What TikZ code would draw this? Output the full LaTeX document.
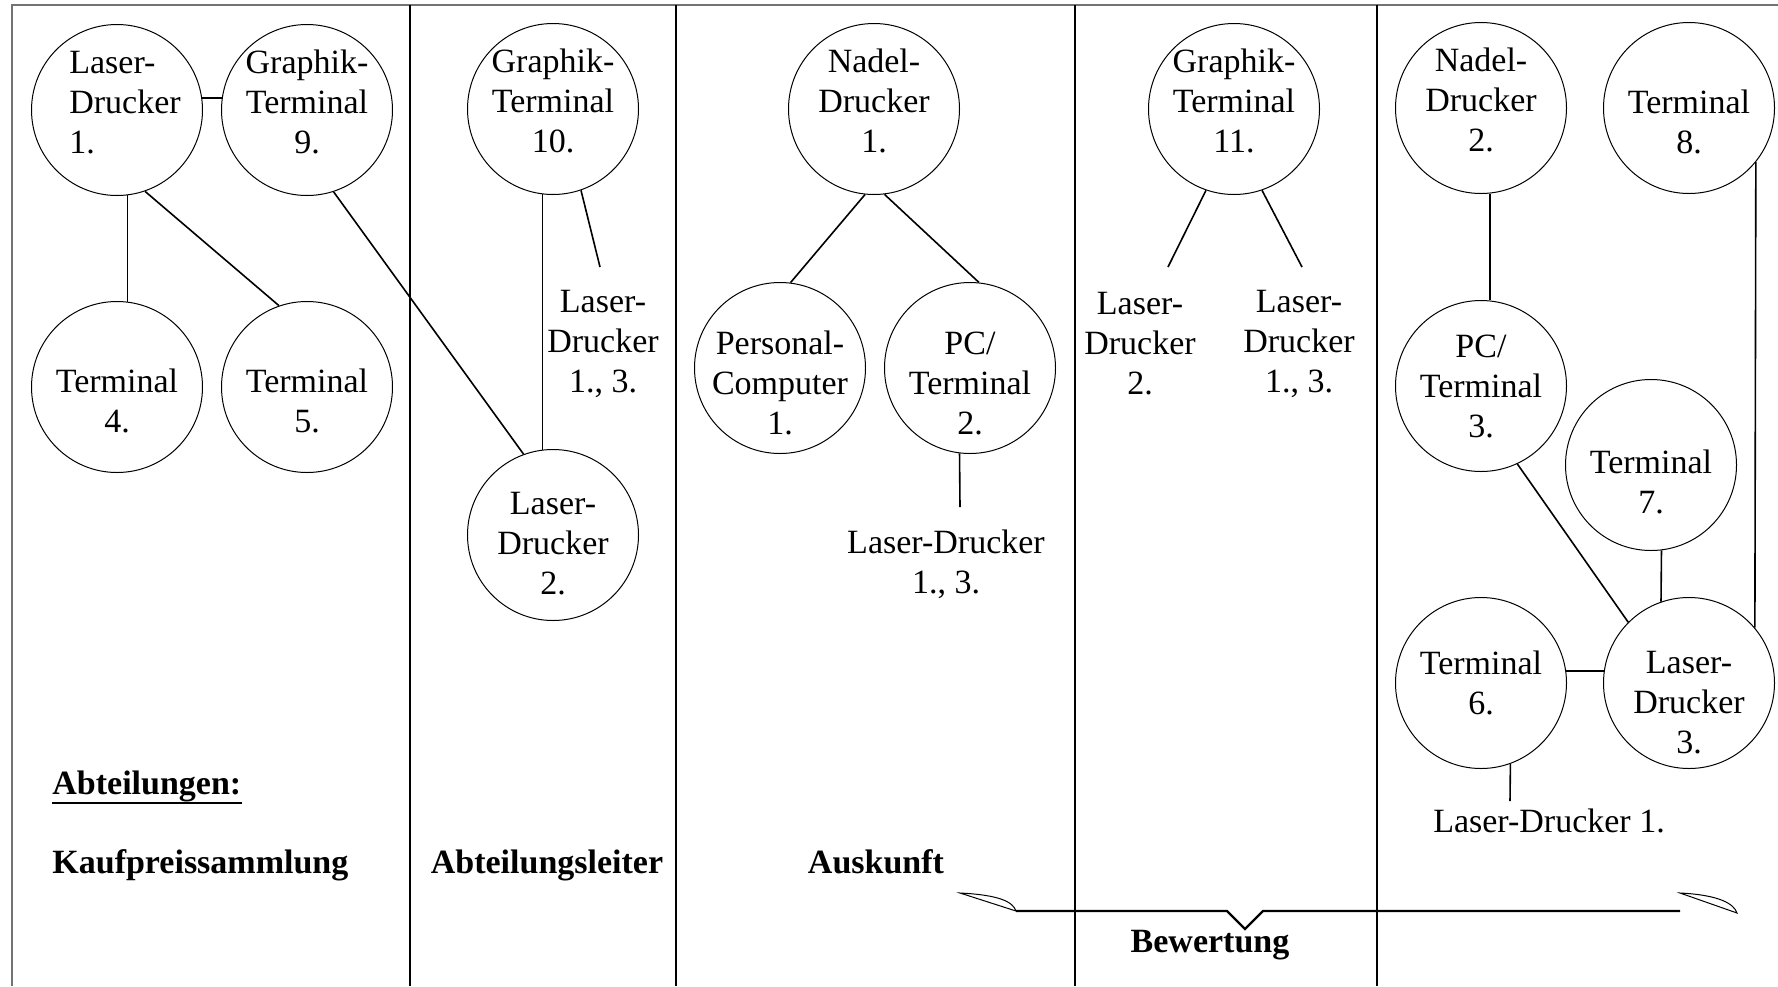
\documentclass[tikz,border=0pt]{standalone}
\usepackage{fontspec}
\setmainfont{Liberation Serif}
\usepackage{tikz}
\usetikzlibrary{shapes.geometric, arrows}
\tikzset{
  font={\fontsize{17pt}{20pt}\selectfont}}
\tikzset{
  geraet/.style={draw, shape=circle, minimum size=85.5pt, inner sep=-5pt, align=center, line width=0.5pt},
  beschr/.style={inner sep=0pt, align=center},
  titel/.style={inner sep=0pt, font={\fontsize{17pt}{20pt}\selectfont\bfseries}},
  trenn/.style={line width=1pt},
  rahmen/.style={line width=0.8pt, black!55},
  klammer/.style={line width=1.1pt}}

\begin{document}
\begin{tikzpicture}[x=0.5pt, y=-0.5pt]
  \useasboundingbox (0,0) rectangle (1778,986);
  % frame and columns
  \draw[rahmen] (12,986) -- (12,5) -- (1778,5);
  \draw[trenn] (410,5) -- (410,986);
  \draw[trenn] (676,5) -- (676,986);
  \draw[trenn] (1075,5) -- (1075,986);
  \draw[trenn] (1377,5) -- (1377,986);

  % Kaufpreissammlung
  \node (ld1) [geraet, align=left] at (117,110) {\hspace*{8pt}Laser-\\\hspace*{8pt}Drucker\\\hspace*{8pt}1.\rule[-8pt]{0pt}{8pt}};
  \node (gt9) [geraet] at (307,110) {Graphik-\\Terminal\\9.\rule[-8pt]{0pt}{8pt}};
  \node (t4) [geraet] at (117,387) {\rule{0pt}{26pt}Terminal\\4.};
  \node (t5) [geraet] at (307,387) {\rule{0pt}{26pt}Terminal\\5.};

  % Abteilungsleiter
  \node (gt10) [geraet] at (553,109) {Graphik-\\Terminal\\10.\rule[-8pt]{0pt}{8pt}};
  \node (ld2) [geraet] at (553,535) {\rule{0pt}{20pt}Laser-\\Drucker\\2.};
  \node (lab10) [beschr] at (603,344) {Laser-\\Drucker\\1., 3.};
  \coordinate (e10) at (600,267);

  % Auskunft
  \node (nd1) [geraet] at (874,109) {Nadel-\\Drucker\\1.\rule[-8pt]{0pt}{8pt}};
  \node (pc1) [geraet] at (780,368) {\rule{0pt}{27pt}Personal-\\Computer\\1.};
  \node (pct2) [geraet] at (970,368) {\rule{0pt}{27pt}PC/\\Terminal\\2.};
  \node (lab2) [beschr] at (946,564) {Laser-Drucker\\1., 3.};
  \coordinate (e2) at (960,507);

  % Bewertung
  \node (gt11) [geraet] at (1234,109) {Graphik-\\Terminal\\11.\rule[-8pt]{0pt}{8pt}};
  \node (lab11a) [beschr] at (1140,344) {Laser-\\Drucker\\2.};
  \node (lab11b) [beschr] at (1299,344) {Laser-\\Drucker\\1., 3.};
  \coordinate (e11a) at (1168,267);
  \coordinate (e11b) at (1302,267);

  % rechte Spalte
  \node (nd2) [geraet] at (1481,108) {Nadel-\\Drucker\\2.\rule[-8pt]{0pt}{8pt}};
  \node (t8) [geraet] at (1689,108) {\rule{0pt}{26pt}Terminal\\8.};
  \node (pct3) [geraet] at (1481,386) {PC/\\Terminal\\3.};
  \node (t7) [geraet] at (1651,465) {\rule{0pt}{29pt}Terminal\\7.};
  \node (t6) [geraet] at (1481,683) {Terminal\\6.};
  \node (ld3) [geraet] at (1689,683) {\rule{0pt}{31pt}Laser-\\Drucker\\3.};
  \node (lab6) [beschr] at (1549,821) {Laser-Drucker 1.};
  \coordinate (e6) at (1510,801);

  % Abteilungen
  \node (abt) [titel, anchor=base west] at (52,794) {Abteilungen:};
  \draw[line width=1.2pt] ([yshift=-0.5pt]abt.south west) -- ([yshift=-0.5pt]abt.south east);
  \node (kauf) [titel, anchor=base west] at (52,873) {Kaufpreissammlung};
  \node (leiter) [titel, anchor=base] at (547,873) {Abteilungsleiter};
  \node (ausk) [titel, anchor=base] at (876,873) {Auskunft};
  \node (bew) [titel, anchor=base] at (1210,952) {Bewertung};

  \draw[-, thick] (ld1.8) -- (gt9.172);
  \draw[-, thick] (ld1.-83) -- (t4.83);
  \draw[-, thick] (ld1.-71) -- (t5.109);
  \draw[-, thick] (gt9.-72) -- (ld2.110);
  \draw[-, thick] (gt10.-97) -- (ld2.97);
  \draw[-, thick] (gt10.-71) -- (e10);
  \draw[-, thick] (nd1.-96) -- (pc1.83);
  \draw[-, thick] (nd1.-83) -- (pct2.84);
  \draw[-, thick] (pct2.-97) -- (e2);
  \draw[-, thick] (gt11.-109) -- (e11a);
  \draw[-, thick] (gt11.-71) -- (e11b);
  \draw[-, thick] (nd2.-84) -- (pct3.84);
  \draw[-, thick] (pct3.-65) -- (ld3.135);
  \draw[-, thick] (t7.-83) -- (ld3.109);
  \draw[-, thick] (t8.-39) -- (ld3.40);
  \draw[-, thick] (t6.8) -- (ld3.172);
  \draw[-, thick] (t6.-70) -- (e6);

  % brace
  \draw[klammer] (1016,911) -- (1227,911) -- (1245,929) -- (1263,911) -- (1680,911);
  \draw[line width=0.5pt] (960,893) .. controls (1000,895) and (1013,902) .. (1016,911) -- cycle;
  \draw[line width=0.5pt] (1680,893) .. controls (1720,895) and (1734,904) .. (1737,913) -- cycle;
\end{tikzpicture}
\end{document}
